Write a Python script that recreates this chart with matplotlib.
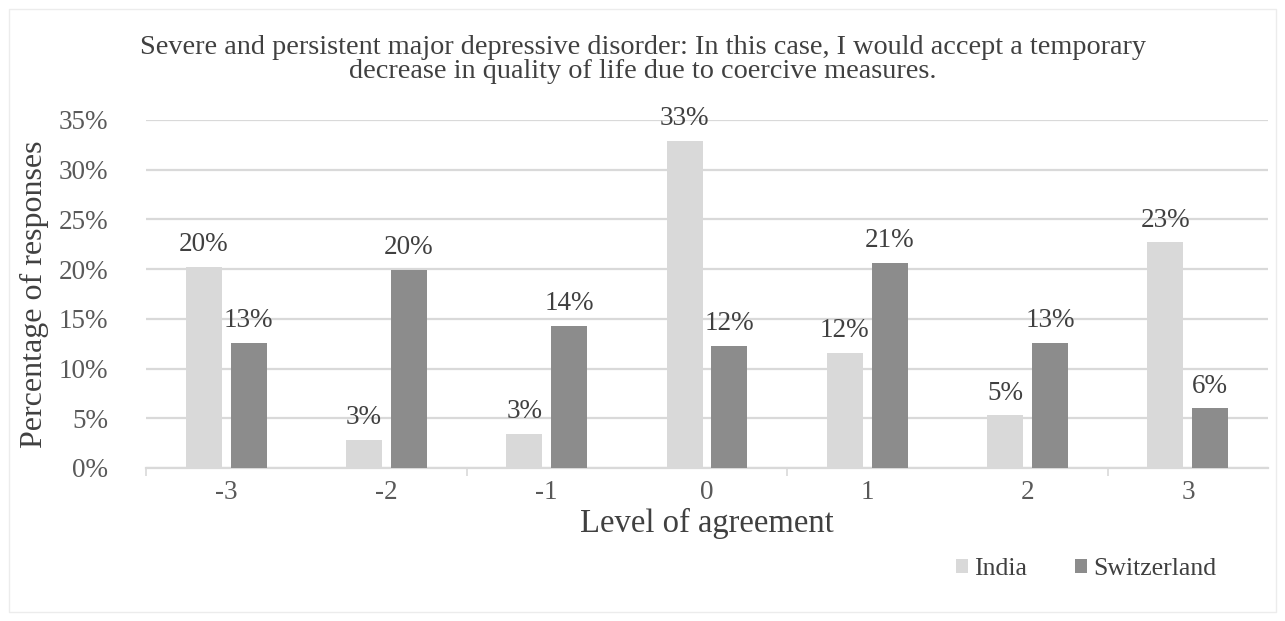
import matplotlib.pyplot as plt
from matplotlib.patches import Rectangle

levels = [-3, -2, -1, 0, 1, 2, 3]
india = [20.2, 2.8, 3.4, 32.9, 11.6, 5.3, 22.7]
switzerland = [12.6, 19.9, 14.3, 12.3, 20.6, 12.6, 6.0]
series_names = ['India', 'Switzerland']
title = ('Severe and persistent major depressive disorder: In this case, I would accept a temporary\n'
         'decrease in quality of life due to coercive measures.')

plt.rcParams['font.family'] = ['Liberation Serif', 'DejaVu Serif']

text_color = '#404040'
tick_color = '#595959'
grid_color = '#d9d9d9'
colors = ['#d9d9d9', '#8c8c8c']

fig = plt.figure(figsize=(12.85, 6.21), dpi=100)
ax = fig.add_axes([0.1136, 0.2464, 0.8732, 0.5604])

# thin frame round the whole chart area
fig.patches.append(Rectangle((0.007, 0.014), 0.986, 0.972, transform=fig.transFigure,
                             fill=False, edgecolor='#ececec', linewidth=1))

width = 0.225
offset = 0.14
x = list(range(len(levels)))
for values, color, name, sign in zip([india, switzerland], colors, series_names, [-1, 1]):
    pos = [i + sign * offset for i in x]
    bars = ax.bar(pos, values, width=width, color=color, label=name, zorder=3)
    for b, v in zip(bars, values):
        ax.annotate(f'{v:.0f}%', (b.get_x() + b.get_width() / 2, v),
                    xytext=(0, 7), textcoords='offset points',
                    ha='center', va='bottom', fontsize=19.5, color=text_color)

ax.set_xlim(-0.5, len(levels) - 0.5)
ax.set_ylim(0, 35)
ax.set_yticks(range(0, 36, 5))
ax.set_yticklabels([f'{t}%' for t in range(0, 36, 5)])
ax.set_xticks(x)
ax.set_xticklabels([str(l) for l in levels])
ax.tick_params(axis='y', length=0, labelsize=19.5, labelcolor=tick_color, pad=27)
ax.tick_params(axis='x', length=0, labelsize=19.5, labelcolor=tick_color, pad=9)

# category tick marks every other boundary
ax.set_xticks([-0.5, 1.5, 3.5, 5.5], minor=True)
ax.tick_params(axis='x', which='minor', length=6, color=grid_color, width=1.2)

ax.grid(axis='y', color=grid_color, linewidth=1.6, zorder=0)
for s in ['top', 'right', 'left']:
    ax.spines[s].set_visible(False)
ax.spines['bottom'].set_color(grid_color)
ax.spines['bottom'].set_linewidth(1.6)

ax.set_ylabel('Percentage of responses', fontsize=23, color=text_color, labelpad=7)
ax.set_xlabel('Level of agreement', fontsize=23.5, color=text_color, labelpad=2)

fig.text(0.5005, 0.904, title, ha='center', va='center', fontsize=20.3,
         color=text_color, linespacing=0.95)

ax.legend(loc='center', bbox_to_anchor=(0.838, -0.29), ncol=2, frameon=False,
          fontsize=18.5, labelcolor=text_color, handlelength=0.45, handleheight=0.45,
          handletextpad=0.25, columnspacing=1.85)

fig.savefig('out.png', dpi=100, facecolor='white')
